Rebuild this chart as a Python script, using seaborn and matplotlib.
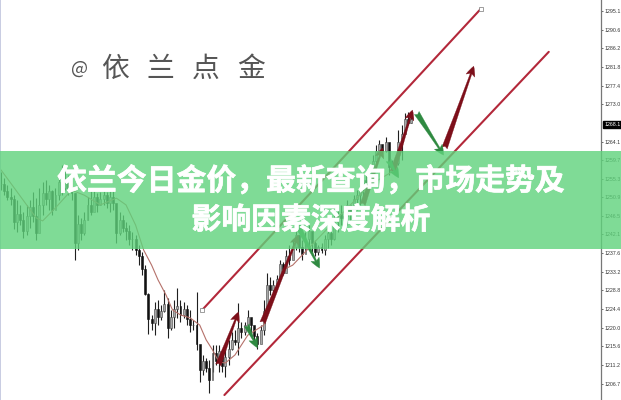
import matplotlib
matplotlib.use("Agg")
import matplotlib.pyplot as plt
import matplotlib.patheffects as pe
from matplotlib.patches import Rectangle
import numpy as np
import pandas as pd
import seaborn as sns

# Values: gold price, one entry per candle

highs = [1256.9, 1255.5, 1253.8, 1253.1, 1251.4, 1250.3, 1249.1, 1247.4, 1249.1, 1250.3,
         1252.2, 1250.7, 1253.1, 1254.5, 1255.0, 1253.8, 1252.6, 1253.1, 1256.2, 1258.6,
         1257.4, 1256.2, 1255.5, 1251.9, 1246.7, 1246.0, 1247.4, 1251.0, 1252.6, 1253.1,
         1251.9, 1252.2, 1252.6, 1252.2, 1252.6, 1252.6, 1249.1, 1247.4, 1246.7, 1245.0,
         1244.3, 1242.7, 1242.0, 1239.6, 1237.9, 1234.8, 1228.2, 1223.0, 1226.1, 1226.5,
         1225.4, 1228.9, 1227.0, 1224.2, 1226.5, 1229.4, 1226.5, 1226.1, 1225.4, 1224.2,
         1221.8, 1228.4, 1215.9, 1213.5, 1212.8, 1212.3, 1215.9, 1215.9, 1215.9, 1214.2,
         1215.4, 1217.1, 1218.9, 1219.4, 1225.8, 1221.3, 1221.3, 1224.2, 1222.3, 1219.9,
         1218.7, 1220.6, 1226.5, 1232.9, 1232.0, 1231.3, 1232.5, 1236.0, 1235.6, 1238.4,
         1239.6, 1240.8, 1244.3, 1242.0, 1240.8, 1242.7, 1244.3, 1242.0, 1240.8, 1239.6,
         1240.1, 1242.0, 1243.6, 1244.3, 1246.7, 1249.1, 1249.1, 1247.9, 1250.3, 1249.1,
         1251.4, 1252.6, 1253.8, 1256.2, 1256.2, 1258.6, 1260.9, 1263.3, 1264.5, 1263.3,
         1265.2, 1263.3, 1259.7, 1259.7, 1266.9, 1268.0, 1270.9, 1271.1, 1270.4]
lows = [1252.6, 1251.4, 1250.3, 1249.1, 1243.4, 1242.7, 1244.3, 1241.2, 1242.0, 1243.6,
        1245.0, 1240.8, 1244.3, 1246.7, 1249.1, 1247.9, 1246.7, 1248.4, 1250.3, 1251.4,
        1252.6, 1251.4, 1250.3, 1236.0, 1238.4, 1240.8, 1242.0, 1245.5, 1246.7, 1247.9,
        1247.4, 1249.1, 1249.1, 1248.4, 1247.4, 1247.9, 1240.1, 1242.0, 1242.7, 1240.8,
        1239.6, 1238.4, 1237.2, 1234.8, 1232.5, 1227.7, 1218.5, 1219.4, 1218.2, 1220.6,
        1221.8, 1223.7, 1217.5, 1219.4, 1219.9, 1222.3, 1221.3, 1222.3, 1220.6, 1218.9,
        1219.4, 1214.7, 1207.1, 1208.7, 1209.5, 1204.5, 1209.5, 1211.1, 1209.5, 1209.5,
        1208.3, 1211.1, 1214.7, 1215.9, 1213.5, 1217.5, 1218.2, 1220.6, 1218.2, 1216.6,
        1214.9, 1217.1, 1218.2, 1224.2, 1227.7, 1228.4, 1230.1, 1231.3, 1232.5, 1234.1,
        1234.8, 1236.5, 1238.4, 1237.9, 1236.0, 1238.4, 1238.9, 1237.9, 1237.0, 1237.2,
        1237.7, 1237.2, 1238.9, 1239.6, 1240.8, 1242.7, 1244.3, 1244.3, 1244.3, 1245.0,
        1246.7, 1247.9, 1249.1, 1250.7, 1252.6, 1253.8, 1255.0, 1258.6, 1261.6, 1260.9,
        1261.6, 1256.2, 1256.9, 1257.4, 1258.6, 1259.7, 1268.0, 1268.0, 1268.5]
closes = [1254.0, 1252.5, 1251.0, 1250.4, 1245.0, 1247.0, 1245.5, 1243.0, 1246.5, 1248.5,
          1246.5, 1242.5, 1249.0, 1252.0, 1250.5, 1252.5, 1248.0, 1251.5, 1254.5, 1253.0,
          1255.0, 1253.0, 1252.0, 1240.0, 1244.5, 1242.5, 1245.5, 1249.0, 1247.5, 1251.0,
          1249.0, 1250.5, 1251.5, 1249.5, 1251.0, 1249.5, 1242.5, 1245.5, 1243.5, 1243.0,
          1241.0, 1241.0, 1238.5, 1237.0, 1234.0, 1228.0, 1222.0, 1221.0, 1224.5, 1222.5,
          1224.0, 1225.5, 1220.0, 1222.5, 1224.5, 1225.0, 1223.0, 1224.5, 1222.0, 1220.5,
          1220.5, 1216.0, 1210.0, 1212.0, 1210.5, 1207.5, 1214.0, 1212.0, 1214.5, 1211.0,
          1213.0, 1215.0, 1217.0, 1216.5, 1220.0, 1219.0, 1220.5, 1222.5, 1220.5, 1218.0,
          1216.0, 1219.5, 1224.0, 1230.0, 1229.0, 1230.0, 1231.5, 1235.0, 1233.0, 1237.0,
          1236.0, 1239.0, 1242.0, 1239.0, 1237.5, 1241.0, 1243.0, 1240.0, 1238.0, 1239.0,
          1238.5, 1241.0, 1242.5, 1241.0, 1245.0, 1247.0, 1246.0, 1246.5, 1249.0, 1247.0,
          1250.5, 1251.5, 1253.0, 1255.0, 1254.5, 1257.0, 1259.5, 1262.0, 1263.5, 1262.0,
          1264.0, 1258.0, 1258.5, 1259.0, 1264.0, 1266.0, 1269.5, 1268.5, 1269.5]

# moving average, sampled along the thin line
ma_bars = [0, 3, 8, 11, 13, 17, 22, 26, 31, 36, 39, 42, 44.5, 47, 49, 51.5, 53.5, 56, 59, 62,
           64, 66, 68, 70, 73, 77, 82, 84, 88, 91, 94, 100, 107.5, 115, 123, 125]
ma_prices = [1257.4, 1254.3, 1249.1, 1246.0, 1245.3, 1248.4, 1252.6, 1251.4, 1249.1, 1250.7,
             1249.1, 1244.3, 1238.4, 1234.8, 1231.3, 1227.7, 1224.2, 1223.0, 1222.3, 1220.6,
             1217.1, 1214.7, 1211.8, 1211.6, 1213.5, 1218.2, 1220.6, 1225.4, 1233.7, 1234.8,
             1237.2, 1242.0, 1247.9, 1253.8, 1257.4, 1262.1]

# rising channel
upper_bars = [62.8, 149.7]
upper_prices = [1224.2, 1295.6]
lower_bars = [69.7, 170.9]
lower_prices = [1204.0, 1285.4]

# hand drawn arrows: start bar, start price, end bar, end price
up_arrows = [(67.8, 1211.1, 74.1, 1223.7), (81.6, 1221.1, 92.8, 1242.0), (112.8, 1249.1, 119.1, 1262.6),
             (122.2, 1256.9, 128.4, 1271.6), (138.4, 1262.6, 147.5, 1282.0)]
down_arrows = [(76.6, 1220.6, 80.0, 1215.2), (92.5, 1244.3, 99.4, 1234.1),
               (120.9, 1259.7, 124.1, 1255.5), (129.7, 1270.9, 138.1, 1260.9)]

price_ticks = [1295.1, 1290.6, 1286.2, 1281.8, 1277.4, 1273.0, 1264.1, 1259.7, 1255.3, 1250.9, 1246.5,
               1242.1, 1237.6, 1233.2, 1228.8, 1224.4, 1220.0, 1215.6, 1211.2, 1206.7]
last_price = 1268.1

title_lines = ["依兰今日金价，最新查询，市场走势及", "影响因素深度解析"]
signature = ["@", "依", "兰", "点", "金"]

assert len(highs) == len(lows) == len(closes)

# ── Setup ─────────────────────────────────────────────────────────────────────

sns.set_theme(style="white")
plt.rcParams["font.family"] = ["Noto Sans CJK SC", "DejaVu Sans"]

W, H = 621, 400
fig = plt.figure(figsize=(W / 100, H / 100), dpi=100)
fig.patch.set_facecolor("white")
ax = fig.add_axes([0, 0, 601 / W, 1])
ax.set_facecolor("white")

# ── Candles ───────────────────────────────────────────────────────────────────

bars = np.arange(len(closes))
opens = np.array([closes[0]] + closes[:-1])
shut = np.array(closes)
rising = shut >= opens

ax.vlines(bars, lows, highs, color="#1f1f1f", linewidth=0.8, zorder=2)
ax.bar(bars[rising], (shut - opens)[rising], bottom=opens[rising], width=0.6,
       color="#a8a8a8", edgecolor="#444444", linewidth=0.4, zorder=3)
ax.bar(bars[~rising], (shut - opens)[~rising], bottom=opens[~rising], width=0.6,
       color="#111111", edgecolor="#111111", linewidth=0.4, zorder=3)

# ── Lines ─────────────────────────────────────────────────────────────────────

sns.lineplot(data=pd.DataFrame({"bar": ma_bars, "price": ma_prices}), x="bar", y="price", sort=False,
             color="#b5716a", linewidth=0.8, ax=ax, zorder=4)

for line_x, line_y in [(upper_bars, upper_prices), (lower_bars, lower_prices)]:
    sns.lineplot(data=pd.DataFrame({"bar": line_x, "price": line_y}), x="bar", y="price", sort=False,
                 color="#b3283a", linewidth=1.5, ax=ax, zorder=4)

ax.plot(upper_bars, upper_prices, linestyle="none", marker="s", markersize=2.2, markerfacecolor="white",
        markeredgecolor="#777777", markeredgewidth=0.5, zorder=5)

# ── Arrows ────────────────────────────────────────────────────────────────────

def draw_arrows(arrows, color):
    for x0, y0, x1, y1 in arrows:
        ax.annotate("", xy=(x1, y1), xytext=(x0, y0), zorder=5,
                    arrowprops=dict(arrowstyle="fancy,head_length=0.6,head_width=0.55,tail_width=0.34",
                                    color=color, shrinkA=0, shrinkB=0, linewidth=0.2))


draw_arrows(up_arrows, "#7d0f1a")
draw_arrows(down_arrows, "#2f8a41")

# ── Axes ──────────────────────────────────────────────────────────────────────

ax.set_xlim(-0.31, 187.2)
ax.set_ylim(1297.7 - 0.2372 * H, 1297.7)
ax.set_xlabel("")
ax.set_ylabel("")
ax.set_xticks([])
ax.yaxis.tick_right()
ax.set_yticks(price_ticks)
ax.set_yticklabels([f"{p:.1f}" for p in price_ticks], fontsize=3.8, color="#333333", family="Liberation Sans")
ax.tick_params(axis="y", length=1.5, width=0.5, color="#333333", pad=1, right=True)
for side in ["top", "bottom", "left"]:
    ax.spines[side].set_visible(False)
ax.spines["right"].set_color("#777777")
ax.spines["right"].set_linewidth(0.9)

ax.text(1.006, last_price, f"{last_price:.1f}", transform=ax.get_yaxis_transform(), fontsize=3.8,
        color="white", family="Liberation Sans", va="center", ha="left", clip_on=False,
        bbox=dict(facecolor="black", edgecolor="black", pad=0.8), zorder=6)

# thin edge on the left of the screenshot
fig.add_artist(Rectangle((0, 0), 1 / W, 1, transform=fig.transFigure, color="#c9cde2", linewidth=0, zorder=3))

# ── Signature, band, title ────────────────────────────────────────────────────

for i, ch in enumerate(signature):
    px = 79 if i == 0 else 115 + (i - 1) * 45.5
    fig.text(px / W, 1 - 69 / H, ch, fontsize=13 if i == 0 else 20, color="#555555", weight="light",
             ha="center", va="center", zorder=2)

fig.add_artist(Rectangle((0, 1 - 249 / H), 1, 98 / H, transform=fig.transFigure,
                         facecolor=(95 / 255, 211 / 255, 124 / 255), alpha=0.8, linewidth=0, zorder=5))

heavy = [pe.withStroke(linewidth=0.45, foreground="white")]
fig.text(311 / W, 1 - 181 / H, title_lines[0], fontsize=21.5, color="white", weight="bold",
         ha="center", va="center", zorder=6, path_effects=heavy)
fig.text(311 / W, 1 - 220 / H, title_lines[1], fontsize=21.5, color="white", weight="bold",
         ha="center", va="center", zorder=6, path_effects=heavy)

fig.savefig("out.png", dpi=100)
plt.close(fig)
